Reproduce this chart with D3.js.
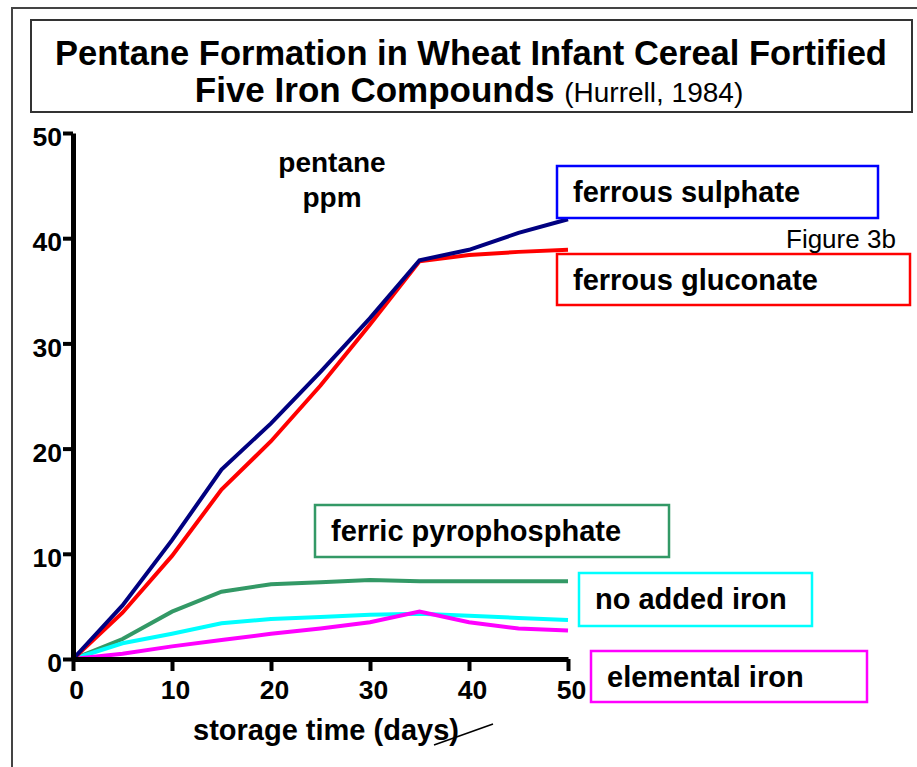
<!DOCTYPE html>
<html>
<head>
<meta charset="utf-8">
<script src="https://cdn.jsdelivr.net/npm/d3@7"></script>
<style>
  html, body { margin: 0; padding: 0; background: #fff; }
  svg { display: block; }
  text { font-family: "Liberation Sans", Arial, Helvetica, sans-serif; }
</style>
</head>
<body>
<svg id="chart" width="917" height="767"></svg>
<script>
// ---- data ----
const days = [0, 5, 10, 15, 20, 25, 30, 35, 40, 45, 50];
const ferrousSulphate     = [0, 5.1, 11.3, 18.0, 22.4, 27.3, 32.4, 37.9, 38.9, 40.5, 41.8];
const ferrousGluconate    = [0, 4.4, 9.8, 16.1, 20.7, 26.0, 31.8, 37.8, 38.4, 38.7, 38.9];
const ferricPyrophosphate = [0, 1.9, 4.5, 6.4, 7.1, 7.3, 7.5, 7.4, 7.4, 7.4, 7.4];
const noAddedIron         = [0, 1.5, 2.4, 3.4, 3.8, 4.0, 4.2, 4.3, 4.1, 3.9, 3.7];
const elementalIron       = [0, 0.5, 1.2, 1.8, 2.4, 2.9, 3.5, 4.5, 3.5, 2.9, 2.7];
const xTicks = [0, 10, 20, 30, 40, 50];
const yTicks = [0, 10, 20, 30, 40, 50];

const seriesNames  = ["ferric pyrophosphate", "no added iron", "elemental iron", "ferrous gluconate", "ferrous sulphate"];
const seriesValues = [ferricPyrophosphate, noAddedIron, elementalIron, ferrousGluconate, ferrousSulphate];
const seriesColors = ["#339966", "#00FFFF", "#FF00FF", "#FF0000", "#000080"];
const boxColors    = ["#339966", "#00FFFF", "#FF00FF", "#FF0000", "#0000FF"];

// label boxes [x, y, w, h] in page pixels
const labelBoxes = [
  [315, 505, 354, 52],
  [579, 573, 233, 53],
  [591, 651, 276, 51],
  [557, 254, 353, 51],
  [557, 166, 321, 52]
];

const svg = d3.select("#chart");

// outer frame
svg.append("path")
  .attr("d", "M12,767 L12,8 L917,8")
  .attr("fill", "none").attr("stroke", "#444").attr("stroke-width", 2);

// title box
svg.append("rect")
  .attr("x", 31).attr("y", 20).attr("width", 881).attr("height", 92)
  .attr("fill", "#fff").attr("stroke", "#333").attr("stroke-width", 2);

svg.append("text")
  .attr("x", 471).attr("y", 65)
  .attr("text-anchor", "middle")
  .attr("font-size", 34.5).attr("font-weight", "bold")
  .text("Pentane Formation in Wheat Infant Cereal Fortified");

const t2 = svg.append("text")
  .attr("x", 469).attr("y", 102)
  .attr("text-anchor", "middle");
t2.append("tspan").attr("font-size", 35).attr("font-weight", "bold").text("Five Iron Compounds ");
t2.append("tspan").attr("font-size", 28).attr("font-weight", "normal").text("(Hurrell, 1984)");

// scales
const x = d3.scaleLinear().domain([0, 50]).range([73, 568]);
const y = d3.scaleLinear().domain([0, 50]).range([659, 133]);

// lines
const line = d3.line().x((d, i) => x(days[i])).y(d => y(d));
seriesValues.forEach((vals, k) => {
  svg.append("path")
    .datum(vals)
    .attr("d", line)
    .attr("fill", "none")
    .attr("stroke", seriesColors[k])
    .attr("stroke-width", 4)
    .attr("stroke-linejoin", "miter");
});

// axes
const xAxis = svg.append("g")
  .attr("transform", "translate(0,659)")
  .call(d3.axisBottom(x).tickValues(xTicks).tickSize(12).tickSizeOuter(0).tickPadding(9));
const yAxis = svg.append("g")
  .attr("transform", "translate(73,0)")
  .call(d3.axisLeft(y).tickValues(yTicks).tickSize(10).tickSizeOuter(0).tickPadding(1));

[xAxis, yAxis].forEach(g => {
  g.select(".domain").attr("stroke", "#000").attr("stroke-width", 5);
  g.selectAll(".tick line").attr("stroke", "#000").attr("stroke-width", 4);
  g.selectAll(".tick text")
    .attr("fill", "#000")
    .attr("font-size", 26.5)
    .attr("font-weight", "bold")
    .attr("font-family", "'Liberation Sans', Arial, sans-serif");
});
xAxis.selectAll(".tick text").attr("dx", 3);
yAxis.selectAll(".tick text").attr("dy", "0.48em");

// y axis caption
svg.append("text")
  .attr("x", 332).attr("y", 172)
  .attr("text-anchor", "middle")
  .attr("font-size", 28).attr("font-weight", "bold")
  .text("pentane");
svg.append("text")
  .attr("x", 332).attr("y", 207)
  .attr("text-anchor", "middle")
  .attr("font-size", 28).attr("font-weight", "bold")
  .text("ppm");

// x axis title
svg.append("text")
  .attr("x", 326).attr("y", 740)
  .attr("text-anchor", "middle")
  .attr("font-size", 29).attr("font-weight", "bold")
  .text("storage time (days)");

// stray stroke across the closing parenthesis
svg.append("line")
  .attr("x1", 434).attr("y1", 745).attr("x2", 493).attr("y2", 724)
  .attr("stroke", "#000").attr("stroke-width", 1.5);

// label boxes
labelBoxes.forEach((b, k) => {
  svg.append("rect")
    .attr("x", b[0]).attr("y", b[1]).attr("width", b[2]).attr("height", b[3])
    .attr("fill", "#fff")
    .attr("stroke", boxColors[k]).attr("stroke-width", 2.5);
  svg.append("text")
    .attr("x", b[0] + 16).attr("y", b[1] + 36)
    .attr("font-size", 29).attr("font-weight", "bold")
    .attr("fill", "#000")
    .text(seriesNames[k]);
});

// figure tag
svg.append("text")
  .attr("x", 786).attr("y", 248)
  .attr("font-size", 26)
  .attr("fill", "#000")
  .text("Figure 3b");
</script>
</body>
</html>
